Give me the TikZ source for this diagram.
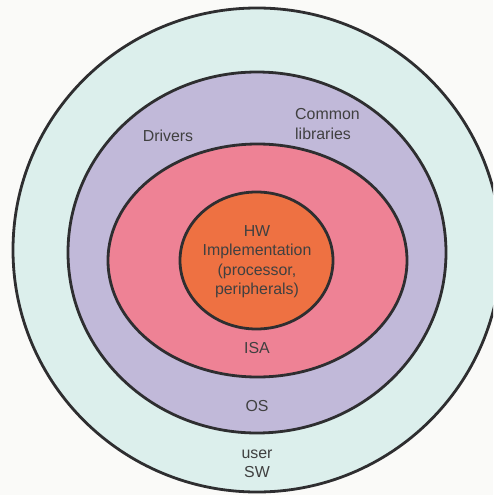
\documentclass[tikz,border=0pt]{standalone}
\usepackage{fontspec}
\setmainfont{Liberation Sans}
\usetikzlibrary{shapes.geometric}
\definecolor{bgc}{HTML}{FAFAF8}
\definecolor{ringuser}{HTML}{DCEFEC}
\definecolor{ringos}{HTML}{C1B9D9}
\definecolor{ringisa}{HTML}{EE8295}
\definecolor{ringhw}{HTML}{EE7142}
\definecolor{edgec}{HTML}{2E2E30}
\definecolor{txtc}{HTML}{404040}
\tikzset{
  ring/.style={ellipse, draw=edgec, line width=2.8pt, inner sep=0pt},
  lbl/.style={text=txtc, font=\fontsize{15.9}{19.5}\selectfont, align=center, inner sep=0pt}
}
\begin{document}
\begin{tikzpicture}[x=1pt,y=-1pt]
\fill[bgc] (0,0) rectangle (493,495);
\useasboundingbox (0,0) rectangle (493,495);
\clip (0,0) rectangle (493,495);
\node[ring, fill=ringuser, minimum width=488pt, minimum height=484pt] (user) at (257,250) {};
\node[ring, fill=ringos, minimum width=378pt, minimum height=361pt] (os) at (257,252.5) {};
\node[ring, fill=ringisa, minimum width=299pt, minimum height=233pt] (isa) at (257.5,260.5) {};
\node[ring, fill=ringhw, minimum width=153pt, minimum height=137pt] (hw) at (256.5,260.5) {};
\node[lbl] (hwt) at (257,261.5) {HW\\Implementation\\(processor,\\peripherals)};
\node[lbl] (isat) at (257,348) {ISA};
\node[lbl] (ost) at (257,406) {OS};
\node[lbl] (usert) at (257,464) {user\\SW};
\node[lbl] (drv) at (168,136) {Drivers};
\node[lbl, align=left, anchor=west] (lib) at (295,124) {Common\\libraries};
\end{tikzpicture}
\end{document}
